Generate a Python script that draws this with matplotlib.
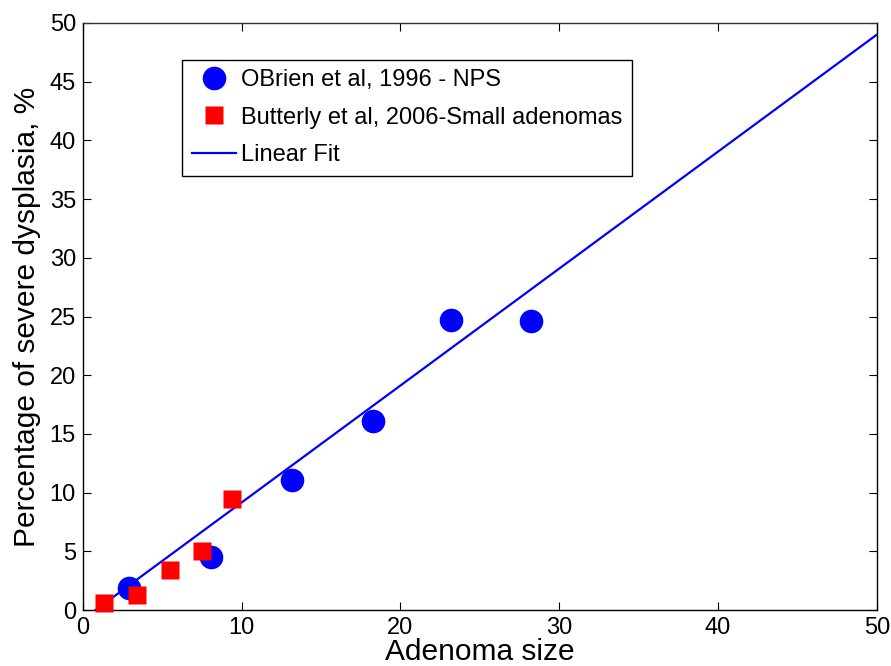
import matplotlib
matplotlib.use('Agg')
import matplotlib.pyplot as plt

plt.rcParams['font.family'] = ['Liberation Sans', 'DejaVu Sans']

# OBrien et al, 1996 - NPS
obrien_x = [2.9, 8.1, 13.2, 18.3, 23.2, 28.2]
obrien_y = [1.9, 4.5, 11.1, 16.1, 24.7, 24.6]

# Butterly et al, 2006 - small adenomas
butterly_x = [1.3, 3.4, 5.5, 7.5, 9.4]
butterly_y = [0.6, 1.3, 3.4, 5.0, 9.5]

# linear fit
fit_x = [0.8, 50]
fit_y = [0.0, 49.0]

fig = plt.figure(figsize=(8.91, 6.66), dpi=100)
ax = fig.add_axes([0.093, 0.084, 0.891, 0.8815])

ax.plot(fit_x, fit_y, '-', color='#0000ff', lw=1.6, label='Linear Fit', zorder=2)
ax.plot(obrien_x, obrien_y, 'o', color='#0000ff', ms=17, mec='none',
        label='OBrien et al, 1996 - NPS', zorder=3, clip_on=False)
ax.plot(butterly_x, butterly_y, 's', color='#ff0000', ms=13.5, mec='none',
        label='Butterly et al, 2006-Small adenomas', zorder=4, clip_on=False)

ax.set_xlim(0, 50)
ax.set_ylim(0, 50)
ax.set_xticks(range(0, 51, 10))
ax.set_yticks(range(0, 51, 5))
ax.tick_params(direction='in', labelsize=17, length=6, width=0.8,
               top=True, right=True, pad=5)
for s in ax.spines.values():
    s.set_linewidth(1.0)
ax.spines['top'].set_color('#333333')

ax.set_xlabel('Adenoma size', fontsize=21.5, labelpad=-1)
ax.set_ylabel('Percentage of severe dysplasia, %', fontsize=21.5, labelpad=6)

h, l = ax.get_legend_handles_labels()
order = [1, 2, 0]
leg = ax.legend([h[i] for i in order], [l[i] for i in order],
                loc='upper left', bbox_to_anchor=(0.125, 0.937),
                fontsize=17, fancybox=False, framealpha=1,
                edgecolor='black', borderpad=0.4, labelspacing=0.65,
                handlelength=1.9, handletextpad=0.2, borderaxespad=0)
leg.get_frame().set_linewidth(1.0)

fig.savefig('out.png', dpi=100)
